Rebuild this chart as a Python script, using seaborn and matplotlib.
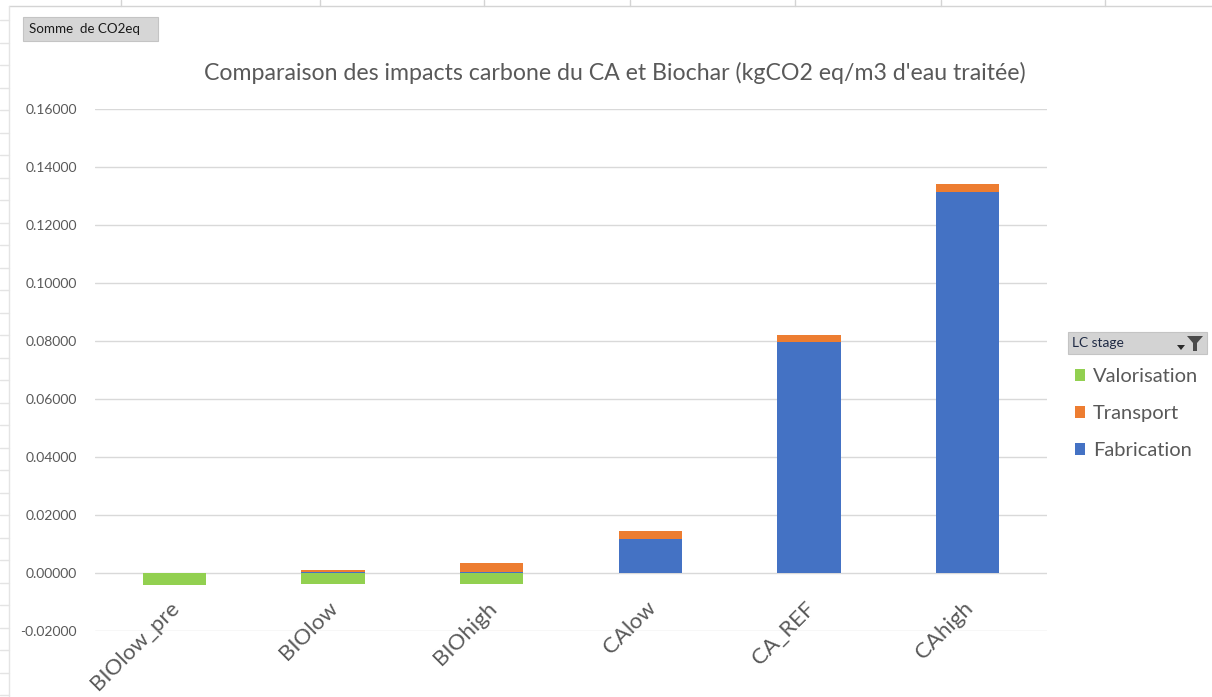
import matplotlib
matplotlib.use("Agg")
import matplotlib.pyplot as plt
from matplotlib.patches import Rectangle, Polygon, Patch
from matplotlib.lines import Line2D
from matplotlib.transforms import ScaledTranslation
from matplotlib.ticker import FuncFormatter, MultipleLocator
import seaborn as sns
import pandas as pd

# Scenario data (kgCO2 eq / m3 of treated water)
scenarios = ["BIOlow_pre", "BIOlow", "BIOhigh", "CAlow", "CA_REF", "CAhigh"]
fabrication = [0.0, 0.0004, 0.0004, 0.0117, 0.0797, 0.1315]
transport = [0.0, 0.0007, 0.0029, 0.0027, 0.0024, 0.0026]
valorisation = [-0.0041, -0.0037, -0.0037, 0.0, 0.0, 0.0]

stage_names = ["Valorisation", "Transport", "Fabrication"]
stage_colors = {"Valorisation": "#92D050", "Transport": "#ED7D31", "Fabrication": "#4472C4"}

sns.set_theme(style="white")
plt.rcParams["font.family"] = ["Lato", "DejaVu Sans"]

W, H = 1212, 697
fig = plt.figure(figsize=(W / 100, H / 100), dpi=100)
fig.patch.set_facecolor("white")


def fx(px):
    return px / W


def fy(py):
    return 1 - py / H


ax = fig.add_axes([fx(95), fy(631), fx(1047) - fx(95), fy(109) - fy(631)])
ax.set_facecolor("white")

df = pd.DataFrame({
    "scenario": scenarios,
    "fabrication": fabrication,
    "transport": transport,
    "valorisation": valorisation,
})
df["fab_trans"] = df["fabrication"] + df["transport"]

# Stacked bars: Fabrication at the bottom, Transport on top, Valorisation below zero
sns.barplot(data=df, x="scenario", y="fab_trans", color=stage_colors["Transport"],
            saturation=1, width=0.4, linewidth=0, ax=ax, zorder=3)
sns.barplot(data=df, x="scenario", y="fabrication", color=stage_colors["Fabrication"],
            saturation=1, width=0.4, linewidth=0, ax=ax, zorder=4)
sns.barplot(data=df, x="scenario", y="valorisation", color=stage_colors["Valorisation"],
            saturation=1, width=0.4, linewidth=0, ax=ax, zorder=4)

ax.set_xlim(-0.5, len(scenarios) - 0.5)
ax.set_ylim(-0.02, 0.16)
ax.yaxis.set_major_locator(MultipleLocator(0.02))
ax.yaxis.set_major_formatter(FuncFormatter(lambda v, p: f"{v:.5f}"))
ax.grid(axis="y", color="#d9d9d9", linewidth=1, zorder=0)
ax.set_axisbelow(True)
for s in ["top", "right", "left"]:
    ax.spines[s].set_visible(False)
ax.spines["bottom"].set_position(("data", 0))
ax.spines["bottom"].set_visible(False)
ax.set_xlabel("")
ax.set_ylabel("")
ax.tick_params(axis="y", length=0, pad=13, labelsize=10, labelcolor="#595959")
ax.tick_params(axis="x", length=0, pad=18, labelsize=16, labelcolor="#595959")
for lbl in ax.get_xticklabels():
    lbl.set_rotation(45)
    lbl.set_ha("right")
    lbl.set_va("top")
    lbl.set_rotation_mode("anchor")
    lbl.set_transform(lbl.get_transform() + ScaledTranslation(-5 / 100, 0, fig.dpi_scale_trans))

# Title
fig.text(fx(615), fy(73), "Comparaison des impacts carbone du CA et Biochar (kgCO2 eq/m3 d'eau traitée)",
         ha="center", va="center", fontsize=16.7, color="#595959")

# Sheet cell borders around the chart object
fig.add_artist(Line2D([fx(9), fx(W)], [fy(6), fy(6)], color="#d4d4d4", lw=1))
fig.add_artist(Line2D([fx(9), fx(9)], [fy(6), fy(H)], color="#e4e4e4", lw=1))
for cx in [121, 320, 484, 630, 795, 941, 1105]:
    fig.add_artist(Line2D([fx(cx), fx(cx)], [fy(0), fy(6)], color="#d4d4d4", lw=1))
ry = 20
while ry < H:
    fig.add_artist(Line2D([fx(0), fx(9)], [fy(ry), fy(ry)], color="#e4e4e4", lw=1))
    ry += 22.5

# Pivot field button
fig.add_artist(Rectangle((fx(23), fy(41)), fx(158) - fx(23), fy(17) - fy(41),
                         facecolor="#d6d6d6", edgecolor="#c4c4c4", lw=0.8))
fig.text(fx(29), fy(29), "Somme  de CO2eq", ha="left", va="center", fontsize=9.6, color="#1a1a1a")

# Legend header with filter button
fig.add_artist(Rectangle((fx(1068), fy(354)), fx(1207) - fx(1068), fy(332) - fy(354),
                         facecolor="#d3d3d3", edgecolor="#c4c4c4", lw=0.8))
fig.text(fx(1072), fy(343), "LC stage", ha="left", va="center", fontsize=9.9, color="#1f2a44")
fig.add_artist(Polygon([(fx(1187), fy(336)), (fx(1203), fy(336)), (fx(1197), fy(343)),
                        (fx(1197), fy(351)), (fx(1193), fy(351)), (fx(1193), fy(343))],
                       closed=True, facecolor="#4a4a4a", edgecolor="none"))
fig.add_artist(Polygon([(fx(1177), fy(345)), (fx(1185), fy(345)), (fx(1181), fy(350))],
                       closed=True, facecolor="#2a2a2a", edgecolor="none"))

handles = [Patch(facecolor=stage_colors[n], edgecolor="none", label=n) for n in stage_names]
leg = fig.legend(handles=handles, loc="upper left", bbox_to_anchor=(fx(1075), fy(368)),
                 frameon=False, fontsize=14.5, handlelength=0.5, handleheight=0.5,
                 handletextpad=0.4, labelspacing=1.0, borderaxespad=0, borderpad=0)
for t in leg.get_texts():
    t.set_color("#595959")

fig.savefig("out.png", dpi=100)
